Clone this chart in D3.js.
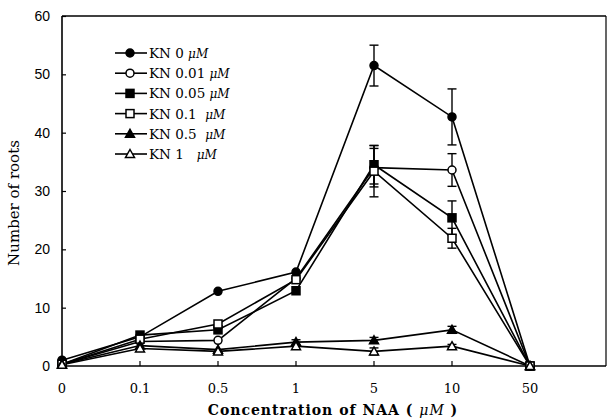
<!DOCTYPE html>
<html>
<head>
<meta charset="utf-8">
<script src="https://cdn.jsdelivr.net/npm/d3@7"></script>
<style>
  body { margin: 0; background: #fff; }
  svg { display: block; }
</style>
</head>
<body>
<svg id="chart" width="608" height="420"></svg>
<script>
// NAA concentrations (categorical x axis)
const naaLabels = ['0', '0.1', '0.5', '1', '5', '10', '50'];
const yTicks = [0, 10, 20, 30, 40, 50, 60];

// Mean number of roots per KN level
const kn0    = [1.0, 5.0, 12.8, 16.1, 51.5, 42.7, 0];
const kn001  = [0.3, 4.2, 4.4, 15.0, 34.0, 33.6, 0];
const kn005  = [0.3, 5.3, 6.2, 12.9, 34.5, 25.4, 0];
const kn01   = [0.3, 4.6, 7.2, 14.8, 33.4, 21.9, 0];
const kn05   = [0.3, 3.5, 2.8, 4.1, 4.4, 6.2, 0];
const kn1    = [0.2, 3.0, 2.5, 3.4, 2.5, 3.4, 0];

// Standard errors (0 = no visible bar)
const kn0Err   = [0, 0, 0, 0, 3.5, 4.8, 0];
const kn001Err = [0, 0, 0, 0, 3.3, 2.8, 0];
const kn005Err = [0, 0, 0, 0, 3.3, 2.9, 0];
const kn01Err  = [0, 0, 0, 0, 4.4, 1.7, 0];
const kn05Err  = [0, 0, 0, 0.4, 0.5, 0.6, 0];
const kn1Err   = [0, 0, 0, 0, 0.6, 0.3, 0];

const seriesNames = ['KN 0', 'KN 0.01', 'KN 0.05', 'KN 0.1', 'KN 0.5', 'KN 1'];
const nameGaps = ['', '', '', ' ', ' ', '  '];
const symbols = ['circle', 'circle', 'square', 'square', 'triangle', 'triangle'];
const filled = [true, false, true, false, true, false];

const series = [kn0, kn001, kn005, kn01, kn05, kn1].map((values, i) => ({
  name: seriesNames[i],
  gap: nameGaps[i],
  values,
  errors: [kn0Err, kn001Err, kn005Err, kn01Err, kn05Err, kn1Err][i],
  symbol: symbols[i],
  filled: filled[i],
}));

const svg = d3.select('#chart');

const x = d3.scaleLinear().domain([0, 7]).range([62, 608]);
const y = d3.scaleLinear().domain([0, 60]).range([366, 16]);

const INK = '#000';

// --- Frame ---
svg.append('line')
  .attr('x1', x(0)).attr('x2', x(0))
  .attr('y1', y(60)).attr('y2', y(0))
  .attr('stroke', INK).attr('stroke-width', 1.6);
svg.append('line')
  .attr('x1', x(0)).attr('x2', 606)
  .attr('y1', y(0)).attr('y2', y(0))
  .attr('stroke', INK).attr('stroke-width', 1.6);
svg.append('line')
  .attr('x1', x(0)).attr('x2', 606)
  .attr('y1', y(60)).attr('y2', y(60))
  .attr('stroke', INK).attr('stroke-width', 1.4);
svg.append('line')
  .attr('x1', 606).attr('x2', 606)
  .attr('y1', y(60)).attr('y2', y(0))
  .attr('stroke', INK).attr('stroke-width', 1.2);

// --- Y axis (ticks pointing inward) ---
const yAxis = d3.axisRight(y).tickValues(yTicks).tickSize(4).tickFormat('');
svg.append('g')
  .attr('transform', `translate(${x(0)},0)`)
  .call(yAxis)
  .call(g => g.select('.domain').remove())
  .selectAll('line').attr('stroke', INK).attr('stroke-width', 1.2);

svg.append('g')
  .selectAll('text')
  .data(yTicks)
  .join('text')
  .attr('x', 50)
  .attr('y', d => y(d) + 5)
  .attr('text-anchor', 'end')
  .attr('font-family', 'Liberation Sans, Arial, sans-serif')
  .attr('font-size', 14)
  .attr('fill', INK)
  .text(d => d);

// --- X axis (ticks pointing upward) ---
const xIdx = naaLabels.map((d, i) => i);
svg.append('g')
  .selectAll('line')
  .data(xIdx.slice(1))
  .join('line')
  .attr('x1', d => x(d)).attr('x2', d => x(d))
  .attr('y1', y(0)).attr('y2', y(0) - 5)
  .attr('stroke', INK).attr('stroke-width', 1.2);

svg.append('g')
  .selectAll('text')
  .data(xIdx)
  .join('text')
  .attr('x', d => x(d))
  .attr('y', 393)
  .attr('text-anchor', 'middle')
  .attr('font-family', 'DejaVu Serif, serif')
  .attr('font-size', 13)
  .attr('fill', INK)
  .text(d => naaLabels[d]);

// --- Axis titles ---
const xTitle = svg.append('text')
  .attr('x', 333)
  .attr('y', 415)
  .attr('text-anchor', 'middle')
  .attr('font-family', 'DejaVu Serif, serif')
  .attr('font-size', 14)
  .attr('font-weight', 'bold')
  .attr('letter-spacing', 1)
  .attr('fill', INK);
xTitle.append('tspan').text('Concentration of NAA ( ');
xTitle.append('tspan').attr('font-style', 'italic').attr('font-weight', 'normal').text('μM');
xTitle.append('tspan').text(' )');

svg.append('text')
  .attr('transform', `translate(19, ${y(30) + 12}) rotate(-90)`)
  .attr('text-anchor', 'middle')
  .attr('font-family', 'DejaVu Serif, serif')
  .attr('font-size', 15)
  .attr('fill', INK)
  .text('Number of roots');

// --- Marker helper ---
function drawMarker(sel, s) {
  if (s.symbol === 'circle') {
    sel.append('circle').attr('r', 4);
  } else if (s.symbol === 'square') {
    sel.append('rect').attr('x', -4).attr('y', -4).attr('width', 8).attr('height', 8);
  } else {
    sel.append('path').attr('d', 'M0,-4.5L4.5,3.5L-4.5,3.5Z');
  }
  sel.selectAll('circle,rect,path')
    .attr('fill', s.filled ? INK : '#fff')
    .attr('stroke', INK)
    .attr('stroke-width', 1.5);
}

const line = d3.line()
  .x((d, i) => x(i))
  .y(d => y(d));

// --- Lines ---
series.forEach(s => {
  svg.append('path')
    .datum(s.values)
    .attr('fill', 'none')
    .attr('stroke', INK)
    .attr('stroke-width', 1.6)
    .attr('d', line);
});

// --- Error bars ---
series.forEach(s => {
  const eb = svg.append('g').attr('stroke', INK).attr('stroke-width', 1.4);
  s.values.forEach((v, i) => {
    const e = s.errors[i];
    if (!e) return;
    const cx = x(i);
    eb.append('line').attr('x1', cx).attr('x2', cx).attr('y1', y(v - e)).attr('y2', y(v + e));
    eb.append('line').attr('x1', cx - 4.5).attr('x2', cx + 4.5).attr('y1', y(v + e)).attr('y2', y(v + e));
    eb.append('line').attr('x1', cx - 4.5).attr('x2', cx + 4.5).attr('y1', y(v - e)).attr('y2', y(v - e));
  });
});

// --- Markers ---
series.forEach(s => {
  s.values.forEach((v, i) => {
    const m = svg.append('g').attr('transform', `translate(${x(i)},${y(v)})`);
    drawMarker(m, s);
  });
});

// --- Legend ---
const legend = svg.append('g').attr('transform', 'translate(115, 53)');
series.forEach((s, i) => {
  const row = legend.append('g').attr('transform', `translate(0, ${i * 20.2})`);
  row.append('line')
    .attr('x1', 0).attr('x2', 32)
    .attr('stroke', INK).attr('stroke-width', 1.6);
  const m = row.append('g').attr('transform', 'translate(15,0)');
  drawMarker(m, s);
  const t = row.append('text')
    .attr('x', 34)
    .attr('y', 5)
    .attr('font-family', 'DejaVu Serif, serif')
    .attr('font-size', 13.5)
    .attr('fill', INK)
    .attr('xml:space', 'preserve');
  t.append('tspan').text(`${s.name} ${s.gap}`);
  t.append('tspan').attr('font-style', 'italic').attr('font-size', 12).text('μM');
});
</script>
</body>
</html>
